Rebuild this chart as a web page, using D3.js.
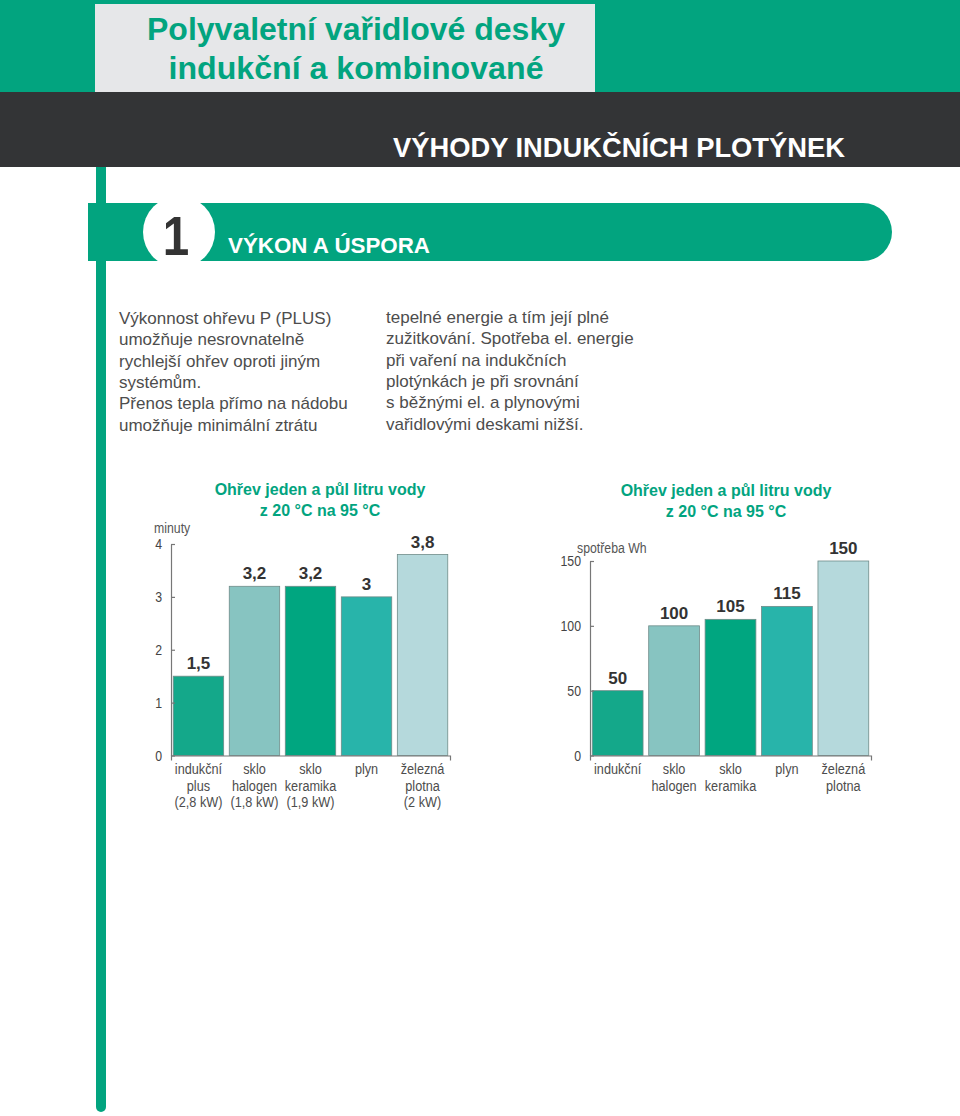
<!DOCTYPE html>
<html><head><meta charset="utf-8">
<script src="https://cdn.jsdelivr.net/npm/d3@7/dist/d3.min.js"></script>
<style>
html,body{margin:0;padding:0;background:#fff;}
svg{display:block;}
</style></head>
<body>
<script>
// ---------- DATA ----------
const timeCategories = [["indukční","plus","(2,8 kW)"],["sklo","halogen","(1,8 kW)"],["sklo","keramika","(1,9 kW)"],["plyn"],["železná","plotna","(2 kW)"]];
const timeValues = [1.5, 3.2, 3.2, 3, 3.8];
const timeTicks = [0, 1, 2, 3, 4];

const energyCategories = [["indukční"],["sklo","halogen"],["sklo","keramika"],["plyn"],["železná","plotna"]];
const energyValues = [50, 100, 105, 115, 150];
const energyTicks = [0, 50, 100, 150];

const barColors = ["#14a88a", "#87c4c1", "#00a680", "#28b4aa", "#b5d9dc"];

const titleLines = ["Polyvaletní vařidlové desky", "indukční a kombinované"];
const bandTitle = "VÝHODY INDUKČNÍCH PLOTÝNEK";
const sectionNumber = "1";
const sectionTitle = "VÝKON A ÚSPORA";
const textLeft = ["Výkonnost ohřevu P (PLUS)", "umožňuje nesrovnatelně", "rychlejší ohřev oproti jiným", "systémům.", "Přenos tepla přímo na nádobu", "umožňuje minimální ztrátu"];
const textRight = ["tepelné energie a tím její plné", "zužitkování. Spotřeba el. energie", "při vaření na indukčních", "plotýnkách je při srovnání", "s běžnými el. a plynovými", "vařidlovými deskami nižší."];
const chartTitle = ["Ohřev jeden a půl litru vody", "z 20 °C na 95 °C"];
const timeUnit = "minuty";
const energyUnit = "spotřeba Wh";

// ---------- DRAW ----------
const W = 960, H = 1116;
const green = "#02a47f";
const svg = d3.select("body").append("svg").attr("width", W).attr("height", H);
const SANS = "'Liberation Sans', Arial, Helvetica, sans-serif";
const CX = 0.82; // horizontal condensing for narrow labels

// header
svg.append("rect").attr("x",0).attr("y",0).attr("width",W).attr("height",93).attr("fill",green);
svg.append("rect").attr("x",95).attr("y",4).attr("width",500).attr("height",89).attr("fill","#e6e7e9");
svg.append("rect").attr("x",0).attr("y",92).attr("width",W).attr("height",75).attr("fill","#333436");
const tl = [[40, 418],[79, 375]];
titleLines.forEach((t,i)=>{
  svg.append("text").attr("x",356).attr("y",tl[i][0]).attr("text-anchor","middle")
    .attr("font-family",SANS).attr("font-weight","bold").attr("font-size",32)
    .attr("fill",green).attr("textLength",tl[i][1]).attr("lengthAdjust","spacingAndGlyphs").text(t);
});
svg.append("text").attr("x",393).attr("y",157).attr("font-family",SANS).attr("font-weight","bold")
  .attr("font-size",27).attr("fill","#fff").attr("textLength",452).attr("lengthAdjust","spacingAndGlyphs").text(bandTitle);

// vertical bar
svg.append("path").attr("d","M96,167 V1107 A5,5 0 0 0 106,1107 V167 Z").attr("fill",green);

// section pill
svg.append("path").attr("d","M88,203 H863 A29,29 0 0 1 863,261 H88 Z").attr("fill",green);
svg.append("circle").attr("cx",179).attr("cy",232).attr("r",36).attr("fill","#fff");
svg.append("text").attr("x",0).attr("y",0).attr("text-anchor","middle").attr("font-family",SANS)
  .attr("font-weight","bold").attr("font-size",56).attr("fill","#333")
  .attr("transform","translate(176,255) scale(0.85,1)").text(sectionNumber);
svg.append("text").attr("x",228).attr("y",253).attr("font-family",SANS).attr("font-weight","bold")
  .attr("font-size",22).attr("fill","#fff").attr("textLength",202).attr("lengthAdjust","spacingAndGlyphs").text(sectionTitle);

// body text
textLeft.forEach((t,i)=>{
  svg.append("text").attr("x",119).attr("y",324+i*21.3).attr("font-family",SANS).attr("font-size",17)
    .attr("fill","#4d4d4d").text(t);
});
textRight.forEach((t,i)=>{
  svg.append("text").attr("x",386).attr("y",323+i*21.3).attr("font-family",SANS).attr("font-size",17)
    .attr("fill","#4d4d4d").text(t);
});

const fmt = d3.formatLocale({decimal:",", thousands:" ", grouping:[3], currency:["",""]}).format("~g");

function chart(cfg){
  const g = svg.append("g");
  const x = d3.scaleBand().domain(cfg.cats.map((d,i)=>i)).range(cfg.xr).paddingInner(0.1).paddingOuter(0.04);
  const y = d3.scaleLinear().domain(cfg.yd).range(cfg.yr);
  // title
  chartTitle.forEach((t,i)=>{
    g.append("text").attr("x",cfg.tx).attr("y",cfg.ty+i*21).attr("text-anchor","middle")
      .attr("font-family",SANS).attr("font-weight","bold").attr("font-size",16).attr("fill",green).text(t);
  });
  g.append("text").attr("transform",`translate(${cfg.ux},${cfg.uy}) scale(${CX},1)`)
    .attr("font-family",SANS).attr("font-size",15).attr("fill","#555").text(cfg.unit);
  // bars
  g.selectAll("rect.bar").data(cfg.vals).join("rect").attr("class","bar")
    .attr("x",(d,i)=>x(i)).attr("width",x.bandwidth())
    .attr("y",d=>y(d)).attr("height",d=>y(0)-y(d))
    .attr("fill",(d,i)=>barColors[i]).attr("stroke","#6f8c89").attr("stroke-width",0.8);
  g.selectAll("text.val").data(cfg.vals).join("text").attr("class","val")
    .attr("x",(d,i)=>x(i)+x.bandwidth()/2).attr("y",d=>y(d)-7).attr("text-anchor","middle")
    .attr("font-family",SANS).attr("font-weight","bold").attr("font-size",17).attr("fill","#333")
    .text(d=>fmt(d));
  // y axis
  const ya = g.append("g").attr("transform",`translate(${cfg.xr[0]},0)`)
    .call(d3.axisLeft(y).tickValues(cfg.ticks).tickSizeInner(-4).tickSizeOuter(0).tickPadding(0).tickFormat(fmt));
  ya.selectAll("path,line").attr("stroke","#777").attr("stroke-width",1.2);
  ya.selectAll("text").attr("x",-9/CX).attr("transform",`scale(${CX},1)`)
    .attr("font-family",SANS).attr("font-size",15).attr("fill","#444");
  // x axis
  const xa = g.append("g").attr("transform",`translate(0,${y(0)})`)
    .call(d3.axisBottom(x).tickSizeInner(0).tickSizeOuter(5).tickFormat(""));
  xa.selectAll("path,line").attr("stroke","#777").attr("stroke-width",1.2);
  xa.selectAll(".tick").each(function(d){
    const t = d3.select(this).select("text").attr("y",null).attr("dy",null)
      .attr("transform",`scale(${CX},1)`)
      .attr("font-family",SANS).attr("font-size",15.5).attr("fill","#4d4d4d");
    cfg.cats[d].forEach((line,k)=>{
      t.append("tspan").attr("x",0).attr("y",19+k*16.3).text(line);
    });
  });
}

chart({cats:timeCategories, vals:timeValues, ticks:timeTicks, xr:[171,450], yd:[0,4], yr:[755.5,544],
  tx:320, ty:495, ux:154, uy:533, unit:timeUnit});
chart({cats:energyCategories, vals:energyValues, ticks:energyTicks, xr:[590,871], yd:[0,150], yr:[755.5,561],
  tx:726, ty:496, ux:577, uy:553, unit:energyUnit});
</script>
</body></html>
